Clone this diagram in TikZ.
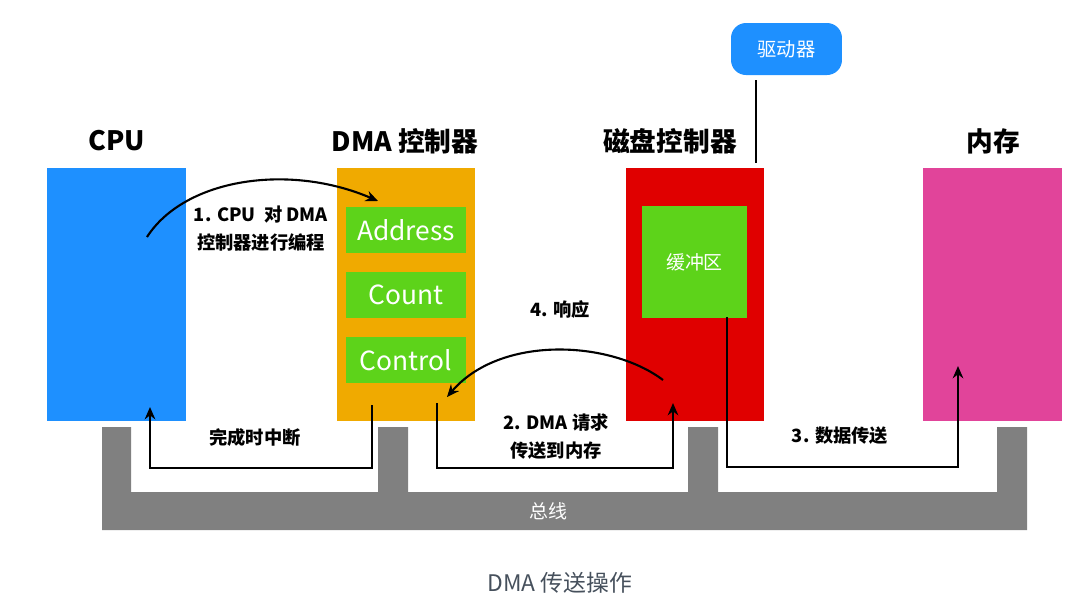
\documentclass[tikz,border=0pt]{standalone}
\usepackage{fontspec}
\setmainfont{Noto Sans CJK SC}
\usetikzlibrary{arrows.meta}

\definecolor{cpuBlue}{RGB}{30,144,255}
\definecolor{dmaOrange}{RGB}{240,170,0}
\definecolor{diskRed}{RGB}{224,0,0}
\definecolor{memPink}{RGB}{225,68,154}
\definecolor{regGreen}{RGB}{93,211,26}
\definecolor{busGray}{RGB}{128,128,128}
\definecolor{capGray}{RGB}{70,80,92}

\tikzset{
  unit/.style={minimum width=2.78cm, minimum height=5.06cm, inner sep=0pt},
  title/.style={font=\bfseries\fontsize{15.2}{17}\selectfont},
  reg/.style={fill=regGreen, text=white, minimum width=2.4cm, minimum height=0.92cm,
    inner sep=0pt, font=\fontsize{15}{17}\selectfont},
  lbl/.style={font=\bfseries\fontsize{10.4}{16}\selectfont, align=center},
  arr/.style={line width=1.2pt, -{Stealth[length=7pt,width=6pt]}}
}

\begin{document}
\begin{tikzpicture}[x=0.02cm, y=-0.02cm]
  \useasboundingbox (0,0) rectangle (1080,610);

  % Bus
  \fill[busGray] (102,427) -- (131,427) -- (131,492) -- (378,492) -- (378,427)
    -- (408,427) -- (408,492) -- (688,492) -- (688,427) -- (718,427) -- (718,492)
    -- (997,492) -- (997,427) -- (1027,427) -- (1027,530) -- (102,530) -- cycle;
  \node[text=white, font=\fontsize{10.8}{12}\selectfont] (bus) at (548,511) {总线};

  % Units
  \node[unit, fill=cpuBlue] (cpu) at (116.5,294.5) {};
  \node[unit, fill=dmaOrange] (dma) at (406,294.5) {};
  \node[unit, fill=diskRed] (disk) at (695,294.5) {};
  \node[unit, fill=memPink] (mem) at (992.5,294.5) {};

  % Titles
  \node[title] (cpuT) at (117,141) {CPU};
  \node[title] (dmaT) at (405,141) {DMA 控制器};
  \node[title] (diskT) at (670,141) {磁盘控制器};
  \node[title] (memT) at (993,141) {内存};

  % DMA registers
  \node[reg] (addr) at (406,230) {Address};
  \node[reg] (count) at (406,295) {Count};
  \node[reg] (ctrl) at (406,360) {Control};

  % Buffer and driver
  \node[fill=regGreen, text=white, minimum width=2.1cm, minimum height=2.24cm,
    font=\fontsize{10.8}{12}\selectfont] (buf) at (694.5,262) {缓冲区};
  \node[fill=cpuBlue, text=white, rounded corners=0.3cm, minimum width=2.22cm,
    minimum height=1.04cm, font=\fontsize{11}{12}\selectfont] (drv) at (786.5,49) {驱动器};
  \coordinate (drvEnd) at (756,80);
  \coordinate (diskTop) at (756,163);
  \draw[line width=1.2pt] (drvEnd) -- (diskTop);

  % 1. program the DMA controller
  \coordinate (s1) at (147,237);
  \coordinate (e1) at (378,201);
  \draw[arr] (s1) .. controls (185,178) and (290,163) .. (e1);
  \node[lbl] (l1) at (261,229) {1. CPU\ \ 对 DMA\\控制器进行编程};

  % 2. request
  \coordinate (s2) at (437,403);
  \coordinate (e2) at (673,403);
  \draw[arr] (s2) -- ++(0,65) -| (e2);
  \node[lbl] (l2) at (556,437) {2. DMA 请求\\传送到内存};

  % 3. data transfer
  \coordinate (s3) at (727,317);
  \coordinate (e3) at (958,366);
  \draw[arr] (s3) -- ++(0,150) -| (e3);
  \node[lbl] (l3) at (840,436) {3. 数据传送};

  % 4. acknowledge
  \coordinate (s4) at (663,380);
  \coordinate (e4) at (447,397);
  \draw[arr] (s4) .. controls (610,340) and (500,335) .. (e4);
  \node[lbl] (l4) at (560,310) {4. 响应};

  % interrupt when done
  \coordinate (s5) at (372,405);
  \coordinate (e5) at (150,407);
  \draw[arr] (s5) -- ++(0,63) -| (e5);
  \node[lbl] (l5) at (255,438) {完成时中断};

  % Caption
  \node[text=capGray, font=\fontsize{13}{15}\selectfont] (cap) at (560,583) {DMA 传送操作};
\end{tikzpicture}
\end{document}
